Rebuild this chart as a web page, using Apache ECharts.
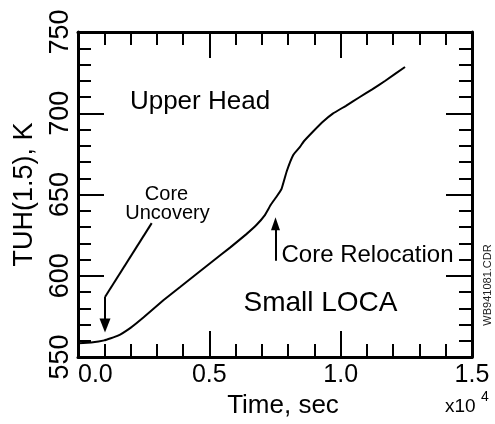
<!DOCTYPE html>
<html>
<head>
<meta charset="utf-8">
<script src="https://cdn.jsdelivr.net/npm/echarts@6/dist/echarts.min.js"></script>
<style>
html,body{margin:0;padding:0;background:#fff;}
#chart{width:495px;height:424px;}
</style>
</head>
<body>
<div id="chart"></div>
<script>
// ---- data ----
var timeSec = [0, 500, 1000, 1500, 2000, 2500, 3250, 3900, 4500, 5150, 5800, 6400, 6800, 7100, 7350, 7550, 7750, 7950, 8200, 8450, 8600, 8950, 9300, 9700, 10200, 10700, 11200, 11700, 12450];
var tuhK    = [558.5, 559, 560.3, 563, 568, 574.5, 585, 593.3, 601, 609.3, 617.5, 625.5, 631.4, 637, 644, 648.5, 653.5, 664.5, 674.5, 679.3, 682.8, 688.8, 694.5, 699.8, 704.6, 709.7, 714.7, 720, 728.5];
var xTickLabels = ['0.0', '0.5', '1.0', '1.5'];
var yTickLabels = ['550', '600', '650', '700', '750'];
// annotation arrow anchors (data space)
var uncoveryArrow = [[2806, 632.4], [1028, 587], [1028, 569.5]];
var relocationArrow = [[7519, 609.2], [7519, 632]];

var FONT = '"Liberation Sans", Arial, Helvetica, sans-serif';
var chart = echarts.init(document.getElementById('chart'), null, {renderer: 'canvas'});

function tickAxisCommon() {
  return {
    axisLine: {show: true, onZero: false, lineStyle: {color: '#000', width: 3}},
    axisTick: {show: true, inside: true, length: 26, lineStyle: {color: '#000', width: 2}},
    minorTick: {show: true, splitNumber: 5, length: 13, lineStyle: {color: '#000', width: 2}},
    splitLine: {show: false},
    minorSplitLine: {show: false}
  };
}

var xBottom = Object.assign({
  type: 'value', min: 0, max: 15000, interval: 5000, position: 'bottom', gridIndex: 0,
  name: 'Time, sec', nameLocation: 'middle', nameGap: 33,
  nameTextStyle: {fontFamily: FONT, fontSize: 26, color: '#000', padding: [0, 0, 0, 16]},
  axisLabel: {
    show: true, margin: 6, fontFamily: FONT, fontSize: 25, color: '#000',
    alignMinLabel: 'left',
    formatter: function (v, i) { return xTickLabels[Math.round(v / 5000)]; }
  }
}, tickAxisCommon());
var xTop = Object.assign({
  type: 'value', min: 0, max: 15000, interval: 5000, position: 'top', gridIndex: 0,
  axisLabel: {show: false}
}, tickAxisCommon());

var yLeft = Object.assign({
  type: 'value', min: 550, max: 750, interval: 50, position: 'left', gridIndex: 0,
  name: 'TUH(1.5), K', nameLocation: 'middle', nameGap: 40, nameRotate: 90,
  nameTextStyle: {fontFamily: FONT, fontSize: 27, color: '#000'},
  axisLabel: {
    show: true, rotate: 90, margin: 4, fontFamily: FONT, fontSize: 27, color: '#000',
    formatter: function (v) { return yTickLabels[Math.round((v - 550) / 50)]; }
  }
}, tickAxisCommon());
var yRight = Object.assign({
  type: 'value', min: 550, max: 750, interval: 50, position: 'right', gridIndex: 0,
  axisLabel: {show: false}
}, tickAxisCommon());

var seriesData = timeSec.map(function (t, i) { return [t, tuhK[i]]; });

var option = {
  animation: false,
  backgroundColor: '#fff',
  grid: {left: 78, right: 23, top: 32, bottom: 61, containLabel: false},
  xAxis: [xBottom, xTop],
  yAxis: [yLeft, yRight],
  series: [{
    type: 'line',
    xAxisIndex: 0, yAxisIndex: 0,
    data: seriesData,
    showSymbol: false,
    smooth: 0.1,
    lineStyle: {color: '#000', width: 2},
    markLine: {
      silent: true,
      animation: false,
      symbol: ['none', 'none'],
      label: {show: false},
      lineStyle: {color: '#000', width: 2, type: 'solid'},
      emphasis: {disabled: true},
      data: [
        [{coord: uncoveryArrow[0]}, {coord: uncoveryArrow[1]}],
        [{coord: uncoveryArrow[1]}, {coord: uncoveryArrow[2], symbol: 'triangle', symbolSize: [11, 14]}],
        [{coord: relocationArrow[0]}, {coord: relocationArrow[1], symbol: 'triangle', symbolSize: [9, 13]}]
      ]
    }
  }],
  graphic: [
    {type: 'text', style: {text: 'Upper Head', x: 200, y: 102, align: 'center', verticalAlign: 'middle', textAlign: 'center', textVerticalAlign: 'middle', font: '26px ' + FONT, fill: '#000'}},
    {type: 'text', style: {text: 'Core', x: 166.5, y: 194, align: 'center', verticalAlign: 'middle', textAlign: 'center', textVerticalAlign: 'middle', font: '20px ' + FONT, fill: '#000'}},
    {type: 'text', style: {text: 'Uncovery', x: 167.5, y: 213, align: 'center', verticalAlign: 'middle', textAlign: 'center', textVerticalAlign: 'middle', font: '20px ' + FONT, fill: '#000'}},
    {type: 'text', style: {text: 'Core Relocation', x: 367.5, y: 255, align: 'center', verticalAlign: 'middle', textAlign: 'center', textVerticalAlign: 'middle', font: '24px ' + FONT, fill: '#000'}},
    {type: 'text', style: {text: 'Small LOCA', x: 320.5, y: 303, align: 'center', verticalAlign: 'middle', textAlign: 'center', textVerticalAlign: 'middle', font: '28px ' + FONT, fill: '#000'}},
    {type: 'text', style: {text: 'x10', x: 445, y: 407, align: 'left', verticalAlign: 'middle', textAlign: 'left', textVerticalAlign: 'middle', font: '19px ' + FONT, fill: '#000'}},
    {type: 'text', style: {text: '4', x: 481, y: 397, align: 'left', verticalAlign: 'middle', textAlign: 'left', textVerticalAlign: 'middle', font: '14px ' + FONT, fill: '#000'}},
    {type: 'text', rotation: Math.PI / 2, x: 488, y: 285, style: {text: 'WB941081.CDR', x: 0, y: 0, align: 'center', verticalAlign: 'middle', textAlign: 'center', textVerticalAlign: 'middle', font: '11px ' + FONT, fill: '#222'}}
  ]
};
chart.setOption(option);
</script>
</body>
</html>
